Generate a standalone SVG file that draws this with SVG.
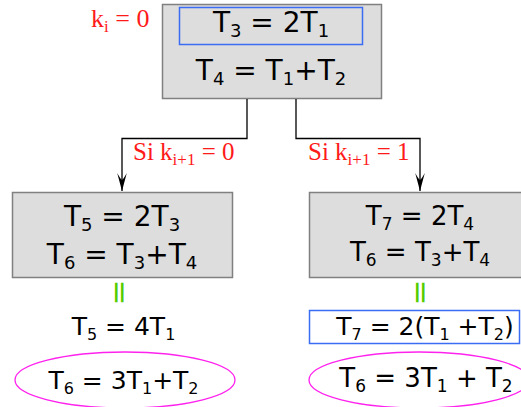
<svg xmlns="http://www.w3.org/2000/svg" width="521" height="407" viewBox="0 0 521 407">
<style>
.box{fill:#dddddd;stroke:#808080;stroke-width:1.5}
.blue{fill:none;stroke:#3a6cf4;stroke-width:1.5}
.ell{fill:none;stroke:#ff22ee;stroke-width:1.3}
.t{font-family:"DejaVu Sans",sans-serif;fill:#000;text-anchor:middle}
.r{font-family:"Liberation Serif",serif;fill:#ff1a1a}
.g{font-family:"DejaVu Sans",sans-serif;fill:#55cc00;text-anchor:middle}
.c{fill:none;stroke:#000;stroke-width:1.3}
</style>
<defs>
<marker id="ah" markerUnits="userSpaceOnUse" markerWidth="22" markerHeight="12" refX="0" refY="0" viewBox="-19 -6 20 12" orient="auto">
<path d="M0,0 L-18,-4.8 Q-12,-1.5 -11,0 Q-12,1.5 -18,4.8 Z" fill="#000"/>
</marker>
</defs>
<text class="r" x="91" y="27" font-size="26">k<tspan font-size="17" dy="5">i</tspan><tspan dy="-5"> = 0</tspan></text>
<g id="top">
<rect class="box" x="162.5" y="4.5" width="219" height="94"/>
<rect class="blue" x="179.5" y="7.5" width="183" height="37"/>
<text class="t" x="271" y="32" font-size="28">T<tspan font-size="18" dy="5">3</tspan><tspan dy="-5"> = 2T</tspan><tspan font-size="18" dy="5">1</tspan></text>
<text class="t" x="271" y="80" font-size="28">T<tspan font-size="18" dy="5">4</tspan><tspan dy="-5"> = T</tspan><tspan font-size="18" dy="5">1</tspan><tspan dy="-5">+T</tspan><tspan font-size="18" dy="5">2</tspan></text>
</g>
<g id="connectors">
<path class="c" d="M247,99 V138.5 H122 V191" marker-end="url(#ah)"/>
<path class="c" d="M296,99 V138.5 H420 V191" marker-end="url(#ah)"/>
<text class="r" x="133" y="160" font-size="25">Si k<tspan font-size="17" dy="5">i+1</tspan><tspan dy="-5"> = 0</tspan></text>
<text class="r" x="308" y="160" font-size="25">Si k<tspan font-size="17" dy="5">i+1</tspan><tspan dy="-5"> = 1</tspan></text>
</g>
<g id="left">
<rect class="box" x="12.5" y="192.5" width="220" height="85"/>
<text class="t" x="122" y="226" font-size="28">T<tspan font-size="18" dy="5">5</tspan><tspan dy="-5"> = 2T</tspan><tspan font-size="18" dy="5">3</tspan></text>
<text class="t" x="122" y="264" font-size="28">T<tspan font-size="18" dy="5">6</tspan><tspan dy="-5"> = T</tspan><tspan font-size="18" dy="5">3</tspan><tspan dy="-5">+T</tspan><tspan font-size="18" dy="5">4</tspan></text>
</g>
<g id="right">
<rect class="box" x="309.5" y="192.5" width="220" height="85"/>
<text class="t" x="420" y="225" font-size="26">T<tspan font-size="17" dy="5">7</tspan><tspan dy="-5"> = 2T</tspan><tspan font-size="17" dy="5">4</tspan></text>
<text class="t" x="420" y="261" font-size="26">T<tspan font-size="17" dy="5">6</tspan><tspan dy="-5"> = T</tspan><tspan font-size="17" dy="5">3</tspan><tspan dy="-5">+T</tspan><tspan font-size="17" dy="5">4</tspan></text>
</g>
<g id="left-result">
<text class="g" font-size="31" transform="translate(119.7,292.6) rotate(90)" y="10">=</text>
<text class="t" x="123.5" y="335" font-size="25">T<tspan font-size="16" dy="5">5</tspan><tspan dy="-5"> = 4T</tspan><tspan font-size="16" dy="5">1</tspan></text>
<ellipse class="ell" cx="125" cy="380" rx="110" ry="28"/>
<text class="t" x="123.5" y="389" font-size="25">T<tspan font-size="16" dy="5">6</tspan><tspan dy="-5"> = 3T</tspan><tspan font-size="16" dy="5">1</tspan><tspan dy="-5">+T</tspan><tspan font-size="16" dy="5">2</tspan></text>
</g>
<g id="right-result">
<text class="g" font-size="31" transform="translate(420.5,292.6) rotate(90)" y="10">=</text>
<rect class="blue" x="309.5" y="310.5" width="210" height="33"/>
<text class="t" x="425" y="335" font-size="25">T<tspan font-size="16" dy="5">7</tspan><tspan dy="-5"> = 2(T</tspan><tspan font-size="16" dy="5">1</tspan><tspan dy="-5"> +T</tspan><tspan font-size="16" dy="5">2</tspan><tspan dy="-5">)</tspan></text>
<ellipse class="ell" cx="419" cy="380" rx="110" ry="28"/>
<text class="t" x="426" y="387" font-size="26">T<tspan font-size="17" dy="5">6</tspan><tspan dy="-5"> = 3T</tspan><tspan font-size="17" dy="5">1</tspan><tspan dy="-5"> + T</tspan><tspan font-size="17" dy="5">2</tspan></text>
</g>
</svg>
